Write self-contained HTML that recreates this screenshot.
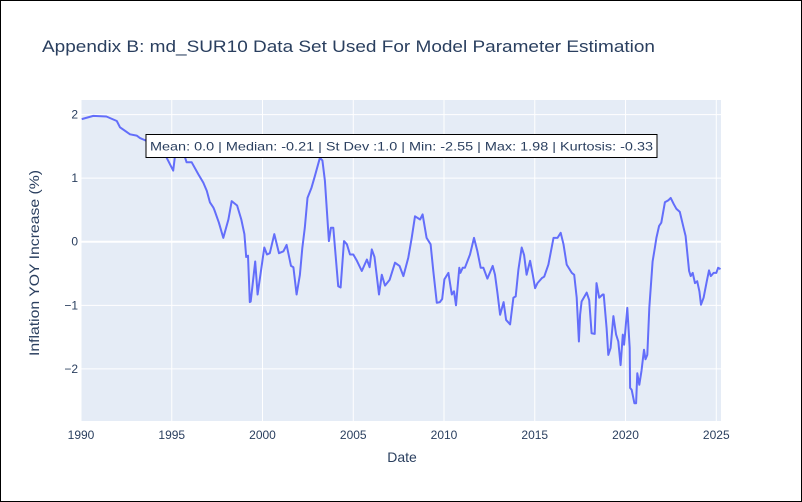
<!DOCTYPE html>
<html><head><meta charset="utf-8"><style>
html,body{margin:0;padding:0;background:#fff;}
#wrap{position:relative;width:800px;height:500px;border:1px solid #000;overflow:hidden;font-family:"Liberation Sans",Arial,sans-serif;}
svg text{font-family:"Liberation Sans",Arial,sans-serif;}
</style></head><body>
<div id="wrap">
<svg id="chart" width="800" height="500"></svg>
</div>
<script>
const years = [1990.04,1990.68,1991.4,1991.97,1992.15,1992.7,1993.07,1993.25,1993.5,1993.8,1994.1,1994.4,1994.72,1995.08,1995.18,1995.5,1995.82,1996.1,1996.47,1996.74,1996.93,1997.1,1997.29,1997.35,1997.6,1997.84,1998.12,1998.3,1998.6,1998.83,1999.0,1999.1,1999.2,1999.3,1999.35,1999.6,1999.73,2000.1,2000.25,2000.4,2000.65,2000.91,2001.15,2001.33,2001.57,2001.7,2001.88,2002.06,2002.19,2002.33,2002.48,2002.7,2002.88,2003.16,2003.3,2003.44,2003.66,2003.77,2003.9,2004.17,2004.3,2004.49,2004.65,2004.82,2005.0,2005.2,2005.47,2005.75,2005.9,2006.02,2006.17,2006.42,2006.57,2006.75,2007.0,2007.3,2007.55,2007.76,2008.03,2008.22,2008.4,2008.68,2008.82,2009.04,2009.26,2009.41,2009.6,2009.77,2009.9,2010.02,2010.24,2010.43,2010.55,2010.66,2010.84,2010.9,2011.03,2011.15,2011.43,2011.65,2011.84,2012.02,2012.17,2012.39,2012.68,2012.81,2012.94,2013.09,2013.28,2013.42,2013.64,2013.82,2013.95,2014.1,2014.28,2014.41,2014.55,2014.74,2014.89,2015.02,2015.15,2015.4,2015.52,2015.75,2016.03,2016.25,2016.43,2016.58,2016.76,2017.04,2017.17,2017.31,2017.43,2017.5,2017.58,2017.86,2018.0,2018.13,2018.3,2018.4,2018.55,2018.74,2018.8,2018.96,2019.05,2019.18,2019.33,2019.48,2019.6,2019.73,2019.85,2019.92,2020.1,2020.23,2020.25,2020.34,2020.49,2020.58,2020.65,2020.76,2020.88,2021.02,2021.1,2021.2,2021.31,2021.49,2021.62,2021.7,2021.85,2021.97,2022.17,2022.35,2022.49,2022.66,2022.8,2022.99,2023.2,2023.31,2023.5,2023.59,2023.7,2023.83,2023.95,2024.07,2024.16,2024.3,2024.48,2024.6,2024.7,2024.85,2025.0,2025.1,2025.23];
const values = [1.93,1.98,1.97,1.90,1.80,1.69,1.67,1.63,1.60,1.57,1.52,1.45,1.32,1.12,1.35,1.53,1.25,1.25,1.06,0.93,0.80,0.62,0.54,0.50,0.30,0.06,0.35,0.64,0.57,0.35,0.12,-0.24,-0.22,-0.95,-0.94,-0.31,-0.83,-0.09,-0.20,-0.18,0.12,-0.18,-0.15,-0.05,-0.38,-0.40,-0.83,-0.52,-0.10,0.22,0.69,0.85,1.03,1.32,1.28,0.96,0.01,0.22,0.22,-0.70,-0.72,0.01,-0.04,-0.20,-0.20,-0.30,-0.46,-0.28,-0.40,-0.12,-0.24,-0.83,-0.52,-0.69,-0.60,-0.33,-0.38,-0.54,-0.25,0.06,0.40,0.35,0.43,0.06,-0.04,-0.46,-0.96,-0.95,-0.90,-0.59,-0.49,-0.83,-0.78,-1.00,-0.41,-0.49,-0.41,-0.41,-0.20,0.06,-0.15,-0.41,-0.41,-0.58,-0.38,-0.52,-0.80,-1.15,-0.95,-1.23,-1.30,-0.88,-0.86,-0.44,-0.09,-0.21,-0.52,-0.30,-0.52,-0.73,-0.65,-0.57,-0.55,-0.36,0.06,0.06,0.14,-0.04,-0.36,-0.49,-0.52,-0.88,-1.57,-1.15,-0.94,-0.80,-0.92,-1.44,-1.45,-0.65,-0.88,-0.83,-0.83,-1.36,-1.78,-1.67,-1.17,-1.46,-1.57,-1.94,-1.46,-1.62,-1.04,-1.67,-2.30,-2.33,-2.54,-2.54,-2.07,-2.25,-2.03,-1.70,-1.85,-1.78,-1.04,-0.31,-0.09,0.06,0.25,0.30,0.62,0.65,0.69,0.59,0.52,0.47,0.22,0.09,-0.46,-0.54,-0.49,-0.65,-0.62,-0.78,-0.99,-0.88,-0.62,-0.45,-0.54,-0.49,-0.49,-0.41,-0.43];
const xTicks = [1990,1995,2000,2005,2010,2015,2020,2025];
const yTicks = [2,1,0,-1,-2];
const yTickLabels = ["2","1","0","\u22121","\u22122"];

const NS="http://www.w3.org/2000/svg";
const svg=document.getElementById('chart');
const PL=80,PR=720,PT=99,PB=420;
const X0=1990,X1=2025.26,Y0=-2.82,Y1=2.23;
function xs(v){return PL+(v-X0)/(X1-X0)*(PR-PL);}
function ys(v){return PB-(v-Y0)/(Y1-Y0)*(PB-PT);}
function mk(tag,attrs,parent){const e=document.createElementNS(NS,tag);for(const k in attrs)e.setAttribute(k,attrs[k]);(parent||svg).appendChild(e);return e;}

const bg=mk('rect',{x:PL,y:PT,width:PR-PL,height:PB-PT,fill:'#e5ecf6'});



xTicks.forEach(t=>{
  const g=mk('line',{x1:xs(t),x2:xs(t),y1:PT,y2:PB,stroke:'#fff','stroke-width':1});
  
  
  const l=mk('text',{x:xs(t),y:PB+18,'text-anchor':'middle','font-size':12,fill:'#2a3f5f'});
  l.textContent=t;
  
  
});
yTicks.forEach((t,i)=>{
  const g=mk('line',{x1:PL,x2:PR,y1:ys(t),y2:ys(t),stroke:'#fff','stroke-width':t===0?2:1});
  
  
  const l=mk('text',{x:PL-3,y:ys(t)+4,'text-anchor':'end','font-size':12,fill:'#2a3f5f'});
  l.textContent=yTickLabels[i];
  
  
});

const d=years.map((y,i)=>(i?'L':'M')+xs(y).toFixed(1)+','+ys(values[i]).toFixed(1)).join(' ');
const line=mk('path',{d:d,fill:'none',stroke:'#636efa','stroke-width':2,'stroke-linejoin':'round'});



const box=mk('rect',{x:145,y:133.5,width:511,height:23,fill:'#fff',stroke:'#000','stroke-width':1});


const bt=mk('text',{x:149,y:149.5,'font-size':12,fill:'#2a3f5f',textLength:503,lengthAdjust:'spacingAndGlyphs'});
bt.textContent='Mean: 0.0 | Median: -0.21 | St Dev :1.0 | Min: -2.55 | Max: 1.98 | Kurtosis: -0.33';



const title=mk('text',{x:41,y:51,'font-size':17,fill:'#2a3f5f',textLength:613,lengthAdjust:'spacingAndGlyphs'});
title.textContent='Appendix B: md_SUR10 Data Set Used For Model Parameter Estimation';



const xt=mk('text',{x:401,y:461,'text-anchor':'middle','font-size':14,fill:'#2a3f5f'});
xt.textContent='Date';



const yt=mk('text',{x:0,y:0,'text-anchor':'middle','font-size':14,fill:'#2a3f5f',textLength:186,lengthAdjust:'spacingAndGlyphs',transform:'translate(38,262) rotate(-90)'});
yt.textContent='Inflation YOY Increase (%)';


</script>
</body></html>
